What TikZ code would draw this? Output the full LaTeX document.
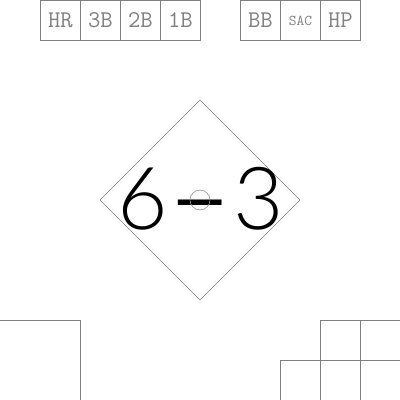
\documentclass[tikz,border=0pt]{standalone}
\usepackage{fontspec}
\newfontfamily\bigfont{Lato Light}
\newfontfamily\dashfont{Lato}
\definecolor{linegray}{HTML}{808080}
\begin{document}
\begin{tikzpicture}[x=1pt,y=-1pt,
  grid/.style={draw=linegray,line width=0.8pt},
  cell/.style={grid,minimum width=40pt,minimum height=40pt,inner sep=0pt,anchor=north west,
    text=linegray,font=\ttfamily\fontsize{24}{24}\selectfont},
  small/.style={font=\ttfamily\fontsize{15}{15}\selectfont},
  digit/.style={inner sep=0pt,font=\bigfont\fontsize{87}{87}\selectfont}]
\useasboundingbox (0,0) rectangle (400,400);
% top-left boxes
\node[cell] (hr) at (40,0) {HR};
\node[cell] (b3) at (80,0) {3B};
\node[cell] (b2) at (120,0) {2B};
\node[cell] (b1) at (160,0) {1B};
% top-right boxes
\node[cell] (bb) at (240,0) {BB};
\node[cell,small] (sac) at (280,0) {SAC};
\node[cell] (hp) at (320,0) {HP};
% diamond
\draw[grid,line width=0.6pt] (200,100) -- (300,200) -- (200,300) -- (100,200) -- cycle;
\node[digit] (six) at (143,199) {6};
\node[digit] (three) at (259,199) {3};
\node[inner sep=0pt,font=\dashfont\fontsize{84}{84}\selectfont] (dash) at (200,214) {\scalebox{1.3}[1]{–}};
\node[circle,draw=linegray!90,line width=0.6pt,minimum size=20pt,inner sep=0pt] (mound) at (200,200) {};
% bottom-left
\draw[grid] (0,320) -- (80,320) -- (80,400);
% bottom-right
\draw[grid] (320,400) -- (320,320) -- (400,320);
\draw[grid] (360,320) -- (360,400);
\draw[grid] (280,400) -- (280,360) -- (400,360);
\end{tikzpicture}
\end{document}
